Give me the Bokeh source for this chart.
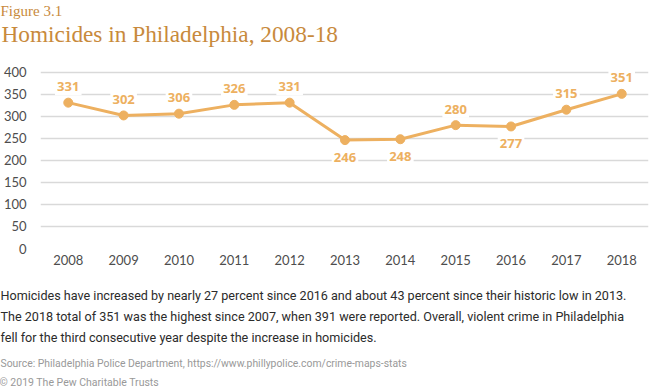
from bokeh.plotting import figure
from bokeh.models import ColumnDataSource, LabelSet, Title, FixedTicker, Range1d
from bokeh.core.properties import value
from bokeh.embed import file_html
from bokeh.resources import INLINE

years = [2008, 2009, 2010, 2011, 2012, 2013, 2014, 2015, 2016, 2017, 2018]
homicides = [331, 302, 306, 326, 331, 246, 248, 280, 277, 315, 351]
label_side = ["above", "above", "above", "above", "above", "below",
              "below", "above", "below", "above", "above"]
y_ticks = [0, 50, 100, 150, 200, 250, 300, 350, 400]

title_text = "Homicides in Philadelphia, 2008-18"
figure_no = "Figure 3.1"
caption_lines = [
    "Homicides have increased by nearly 27 percent since 2016 and about 43 percent since their historic low in 2013.",
    "The 2018 total of 351 was the highest since 2007, when 391 were reported. Overall, violent crime in Philadelphia",
    "fell for the third consecutive year despite the increase in homicides.",
]
source_text = "Source: Philadelphia Police Department, https://www.phillypolice.com/crime-maps-stats"
copyright_text = "\u00a9 2019 The Pew Charitable Trusts"

W, H = 650, 391
FL, FB = 35, 248          # frame left / frame bottom in page pixels
ORANGE = "#EDB060"
TITLE_C = "#C88A3C"

p = figure(width=W, height=H, output_backend="svg", toolbar_location=None,
           x_range=Range1d(2007.4982, 2018.484), y_range=Range1d(0, 404),
           min_border_left=FL, min_border_right=2, min_border_top=70,
           min_border_bottom=H - FB, background_fill_color="white",
           border_fill_color="white", outline_line_color=None)

p.xgrid.grid_line_color = None
p.ygrid.grid_line_color = "#D9D9D9"
p.ygrid.grid_line_width = 1.4
p.yaxis.ticker = FixedTicker(ticks=y_ticks)
p.xaxis.ticker = FixedTicker(ticks=years)
for ax in (p.xaxis, p.yaxis):
    ax.axis_line_color = None
    ax.major_tick_line_color = None
    ax.minor_tick_line_color = None
    ax.major_label_text_font = "Lato"
    ax.major_label_text_font_size = "13px"
    ax.major_label_text_color = "#4D4D4D"
p.yaxis.major_label_standoff = 8
p.xaxis.major_label_standoff = 0

src = ColumnDataSource(dict(
    x=years, y=homicides, t=["\u2009" + str(v) + "\u2009" for v in homicides],
    dy=[16.5 if s == "above" else -16.5 for s in label_side],
))
p.line("x", "y", source=src, line_color=ORANGE, line_width=3)
p.scatter("x", "y", source=src, size=9, fill_color=ORANGE, line_color=ORANGE)

labels = LabelSet(x="x", y="y", text="t", source=src, y_offset="dy",
                  text_align="center", text_baseline="middle",
                  text_font=value("Open Sans"), text_font_style="bold",
                  text_font_size="13px", text_color=ORANGE,
                  background_fill_color="white")
p.add_layout(labels)

SHIFT = -7


def add_title(txt, place, page_x, standoff, size, color, font):
    p.add_layout(Title(text=txt, align="left", offset=page_x - FL + SHIFT,
                       standoff=standoff, text_font=font,
                       text_font_size=size, text_font_style="normal",
                       text_color=color), place)


def spacer(place, standoff):
    add_title(" ", place, 0, standoff, "1px", "#FFFFFF", "Roboto")


# above: first added sits nearest the plot
spacer("above", 20.7)
add_title(title_text, "above", 3, 0, "23.3px", TITLE_C, "Liberation Serif")
add_title(figure_no, "above", 2, 0, "15px", TITLE_C, "Liberation Serif")

# below: after the x axis, outward
spacer("below", 13.0)
for line in caption_lines:
    add_title(line, "below", 2, 3.9, "12.6px", "#2B2B2B", "Roboto")
spacer("below", 3.4)
add_title(source_text, "below", 2, 2, "10.4px", "#999999", "Roboto")
spacer("below", 0)
add_title(copyright_text, "below", 1, 0, "10.5px", "#999999", "Roboto")

open("out.html", "w").write(file_html(p, INLINE))
